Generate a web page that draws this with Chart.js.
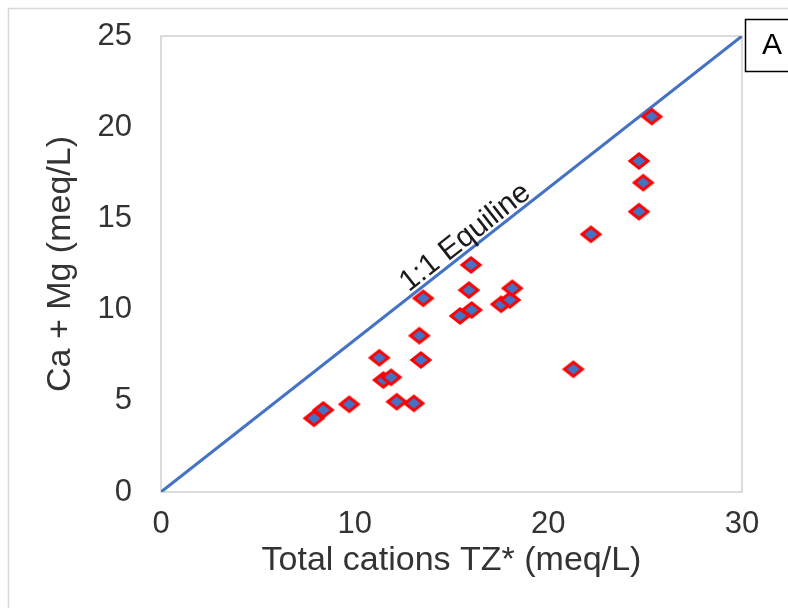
<!DOCTYPE html>
<html>
<head>
<meta charset="utf-8">
<script src="https://cdn.jsdelivr.net/npm/chart.js@4/dist/chart.umd.min.js"></script>
<style>
  html, body { margin: 0; padding: 0; background: #ffffff; }
  #wrap { position: relative; width: 788px; height: 608px; }
</style>
</head>
<body>
<div id="wrap"><canvas id="c"></canvas></div>
<script>
// ---- data ----
const tzCations = [7.90, 8.38, 9.72, 11.27, 11.48, 11.88, 12.17, 13.06, 13.34, 13.42, 13.54, 15.44,
                   16.04, 16.01, 15.90, 17.56, 18.02, 18.14, 21.29, 22.20, 24.68, 24.68, 24.90, 25.34];
const caMg      = [4.04, 4.50, 4.81, 7.36, 6.14, 6.29, 4.95, 4.86, 8.57, 7.24, 10.62, 9.65,
                   9.98, 12.45, 11.07, 10.29, 10.53, 11.17, 6.73, 14.13, 15.37, 18.15, 16.96, 20.58];
const equilineX = [0, 30];
const equilineY = [0, 25];
const equilineLabel = "1:1 Equiline";
const equilineLabelAt = 16.1;
const xTitle = "Total cations TZ* (meq/L)";
const yTitle = "Ca + Mg (meq/L)";
const panelLabel = "A";

// ---- styling ----
const FONT = "'Liberation Sans', Arial, sans-serif";
const BLUE = "#4472C4";
const TXT = "#333333";

function diamondCanvas() {
  const cv = document.createElement('canvas');
  cv.width = 26; cv.height = 22;
  const g = cv.getContext('2d');
  const cx = 13, cy = 11, hw = 9, hh = 7.2;
  g.beginPath();
  g.moveTo(cx, cy - hh); g.lineTo(cx + hw, cy); g.lineTo(cx, cy + hh); g.lineTo(cx - hw, cy);
  g.closePath();
  g.fillStyle = BLUE; g.fill();
  g.lineWidth = 3; g.strokeStyle = "#FF0000"; g.lineJoin = 'miter'; g.stroke();
  return cv;
}

const scatterPts = tzCations.map((x, i) => ({x: x, y: caMg[i]}));
const linePts = equilineX.map((x, i) => ({x: x, y: equilineY[i]}));

const decor = {
  id: 'decor',
  beforeDraw(chart) {
    const ctx = chart.ctx;
    ctx.save();
    ctx.fillStyle = '#ffffff';
    ctx.fillRect(0, 0, chart.width, chart.height);
    ctx.strokeStyle = '#d9d9d9';
    ctx.lineWidth = 1.5;
    ctx.strokeRect(8.5, 8.5, chart.width + 20, chart.height + 20);
    ctx.restore();
  },
  beforeDatasetsDraw(chart) {
    const {ctx, chartArea: a} = chart;
    ctx.save();
    ctx.strokeStyle = '#d0d0d0';
    ctx.lineWidth = 1.5;
    ctx.strokeRect(a.left, a.top, a.right - a.left, a.bottom - a.top);
    ctx.restore();
  },
  afterDatasetsDraw(chart) {
    const ctx = chart.ctx;
    const xs = chart.scales.x, ys = chart.scales.y;
    const x0 = xs.getPixelForValue(equilineX[0]), y0 = ys.getPixelForValue(equilineY[0]);
    const x1 = xs.getPixelForValue(equilineX[1]), y1 = ys.getPixelForValue(equilineY[1]);
    const ang = Math.atan2(y1 - y0, x1 - x0);
    const t = equilineLabelAt;
    const lx = xs.getPixelForValue(t);
    const ly = ys.getPixelForValue(equilineY[0] + (equilineY[1] - equilineY[0]) * (t - equilineX[0]) / (equilineX[1] - equilineX[0]));
    ctx.save();
    ctx.translate(lx, ly);
    ctx.rotate(ang);
    ctx.font = "30px " + FONT;
    ctx.fillStyle = '#1a1a1a';
    ctx.textAlign = 'center';
    ctx.textBaseline = 'alphabetic';
    ctx.fillText(equilineLabel, 0, -4);
    ctx.restore();
    // panel label box
    ctx.save();
    ctx.fillStyle = '#ffffff';
    ctx.fillRect(745.5, 19.5, 60, 52);
    ctx.strokeStyle = '#000000';
    ctx.lineWidth = 1.5;
    ctx.strokeRect(745.5, 19.5, 60, 52);
    ctx.fillStyle = '#000000';
    ctx.font = "30px " + FONT;
    ctx.textAlign = 'left';
    ctx.textBaseline = 'middle';
    ctx.fillText(panelLabel, 762, 46);
    ctx.restore();
  }
};

new Chart(document.getElementById('c'), {
  data: {
    datasets: [
      {
        type: 'scatter',
        data: scatterPts,
        pointStyle: diamondCanvas(),
        pointRadius: 9,
        pointHoverRadius: 9,
        showLine: false
      },
      {
        type: 'line',
        data: linePts,
        borderColor: BLUE,
        borderWidth: 3,
        pointRadius: 0,
        fill: false,
        tension: 0
      }
    ]
  },
  options: {
    responsive: true,
    maintainAspectRatio: false,
    animation: false,
    layout: { padding: { top: 36, right: 46, left: 0, bottom: 0 } },
    plugins: { legend: { display: false }, tooltip: { enabled: false } },
    scales: {
      x: {
        type: 'linear',
        min: 0, max: 30,
        grid: { display: false, drawTicks: false },
        border: { display: false },
        ticks: { stepSize: 10, padding: 14, color: TXT, font: { family: FONT, size: 31 } },
        title: { display: true, text: xTitle, color: TXT, font: { family: FONT, size: 34 }, padding: { top: 0, bottom: 27 } },
        afterFit(s) { s.height = 116; s.paddingLeft = 0; s.paddingRight = 0; }
      },
      y: {
        type: 'linear',
        min: 0, max: 25,
        grid: { display: false, drawTicks: false },
        border: { display: false },
        ticks: { stepSize: 5, padding: 29, color: TXT, font: { family: FONT, size: 31 } },
        title: { display: true, text: yTitle, color: TXT, font: { family: FONT, size: 34 }, padding: { top: 40, bottom: 0 } },
        afterFit(s) { s.width = 161; s.paddingTop = 0; s.paddingBottom = 0; }
      }
    }
  },
  plugins: [decor]
});
</script>
</body>
</html>
